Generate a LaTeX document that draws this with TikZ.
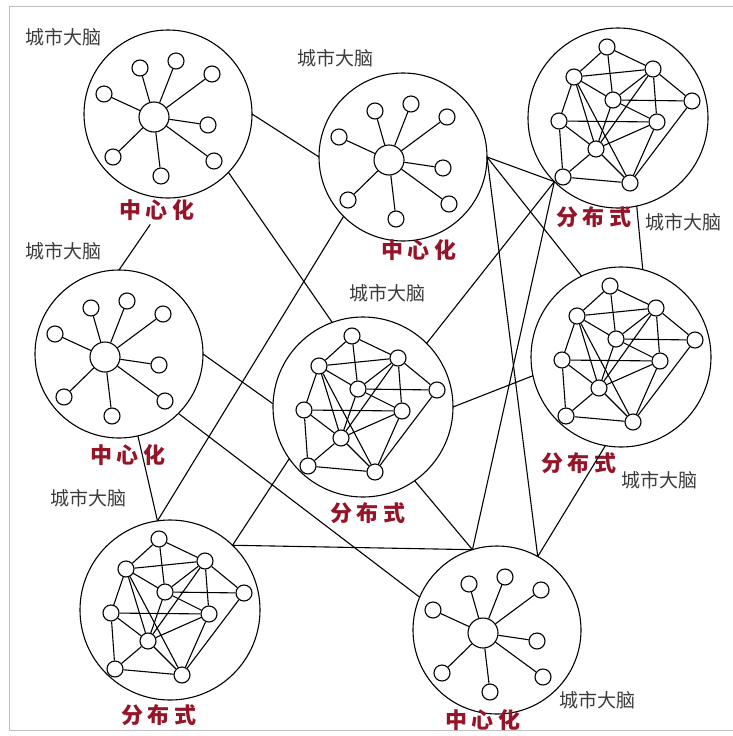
\documentclass[tikz,border=0pt]{standalone}
\usepackage{fontspec}
\newfontfamily\cjk{Noto Sans CJK SC}
\newfontfamily\tagfont[LetterSpace=20]{Noto Sans CJK SC}
\definecolor{braingray}{RGB}{60,60,60}
\definecolor{kindred}{RGB}{150,20,40}

\begin{document}
\begin{tikzpicture}[x=1pt,y=-1pt,line width=1.1pt,
  ring/.style={draw,circle,inner sep=0pt,outer sep=0pt},
  hub/.style={draw,circle,minimum size=30pt,inner sep=0pt},
  leaf/.style={draw,circle,minimum size=16pt,inner sep=0pt},
  peer/.style={draw,circle,minimum size=16pt,inner sep=0pt},
  brain/.style={text=braingray,font=\cjk\fontsize{19}{21}\selectfont},
  kind/.style={text=kindred,font=\tagfont\bfseries\fontsize{22}{24}\selectfont}]
  \useasboundingbox (0,0) rectangle (732,736);
  \draw[gray!50,line width=0.8pt] (9,6) rectangle (745,730);

  % centralized brains
  \foreach \c/\x/\y in {c1/168/114,c2/403/157,c3/119/354,c4/497/630}{
    \node[ring,minimum size=168pt] (\c) at (\x,\y) {};
    \node[hub] (\c-h) at (\x-14,\y+3) {};
    \foreach \dx/\dy [count=\k] in {-14/-49,22/-56,58/-43,-50/-23,54/8,-41/40,60/44,7/59}{
      \node[leaf] (\c-\k) at (\x-14+\dx,\y+3+\dy) {};
      \draw (\c-h) -- (\c-\k);
    }
  }

  % distributed brains
  \foreach \c/\x/\y in {d1/618/118,d2/363/407,d3/621/357,d4/170/610}{
    \node[ring,minimum size=180pt] (\c) at (\x,\y) {};
    \foreach \n/\dx/\dy in {a/-11/-71,b/-44/-41,c/35/-49,d/-5/-18,e/74/-17,f/-59/3,g/39/4,h/-22/31,i/-55/59,j/12/65}
      \node[peer] (\c-\n) at (\x+\dx,\y+\dy) {};
    \foreach \p/\q in {a/b,a/c,a/d,b/c,b/d,b/f,b/h,b/j,c/d,c/e,c/g,c/h,d/e,d/g,d/h,f/g,f/h,f/i,g/h,g/j,h/i,h/j,i/j,e/j}
      \draw (\c-\p) -- (\c-\q);
  }

  % labels
  \node[brain] (c1-name) at (63,37) {城市大脑};
  \node[kind] (c1-kind) at (157,210) {中心化};
  \node[brain] (c2-name) at (335,58) {城市大脑};
  \node[kind] (c2-kind) at (419,250) {中心化};
  \node[brain] (c3-name) at (63,251) {城市大脑};
  \node[kind] (c3-kind) at (128,455) {中心化};
  \node[brain] (c4-name) at (597,700) {城市大脑};
  \node[kind] (c4-kind) at (483,720) {中心化};
  \node[kind] (d1-kind) at (594,217) {分布式};
  \node[brain] (d1-name) at (683,222) {城市大脑};
  \node[brain] (d2-name) at (387,293) {城市大脑};
  \node[kind] (d2-kind) at (368,513) {分布式};
  \node[kind] (d3-kind) at (579,463) {分布式};
  \node[brain] (d3-name) at (659,480) {城市大脑};
  \node[brain] (d4-name) at (88,498) {城市大脑};
  \node[kind] (d4-kind) at (159,715) {分布式};

  % links between brains
  \draw (c1.0) -- (c2.180);
  \draw (c1.-44) -- (d2.110);
  \draw (c3.90) -- (c1-kind.-115);
  \draw (c3.0) -- (d2.178);
  \draw (c3.-45) -- (c4.157);
  \draw (c3.-77) -- (d4.98);
  \draw (d4.98) -- (c2.225);
  \draw (d4.46) -- (d2.215);
  \draw (d4.46) -- (c4.107);
  \draw (d2.-55) -- (c4.107);
  \draw (d1.225) -- (c4.107);
  \draw (c2.0) -- (c4.61);
  \draw (d3.-100) -- (c4.61);
  \draw (d2.45) -- (d1.225);
  \draw (d2.0) -- (d3.192);
  \draw (d1.-78) -- (d3.76);
  \draw (c2.0) -- (d3.116);
  \draw (c2.0) -- (d1.225);
\end{tikzpicture}
\end{document}
